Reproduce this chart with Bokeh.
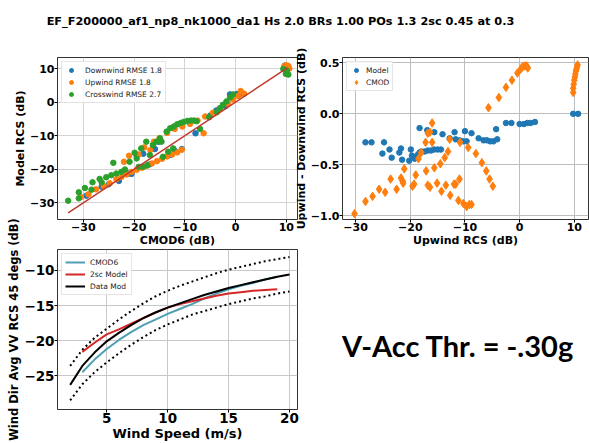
from bokeh.plotting import figure
from bokeh.layouts import column, row
from bokeh.models import Range1d, Label, FixedTicker
from bokeh.embed import file_html
from bokeh.resources import INLINE

TITLE = "EF_F200000_af1_np8_nk1000_da1 Hs 2.0 BRs 1.00 POs 1.3 2sc 0.45 at 0.3"
NOTE = "V-Acc Thr. = -.30g"

# ---------------- panel 1 : Model RCS vs CMOD6 ----------------
dw_x = [-29.4, -26.4, -25.0, -23.0, -21.0, -20.5, -19.5, -18.2, -17.0, -15.9, -15.1, -13.0,
        -12.0, -10.6, -7.9, -5.0, -3.8, -2.0, -1.1, 0.2, 1.0, 9.7, 10.3]
dw_y = [-27.9, -25.2, -24.5, -23.5, -21.3, -21.4, -16.0, -15.4, -18.6, -14.0, -11.8, -15.8,
        -14.5, -14.0, -9.3, -4.0, -2.5, -1.2, 2.3, 2.4, 2.5, 10.9, 10.2]
uw_x = [-30.5, -29.0, -27.5, -26.0, -24.8, -23.5, -22.5, -21.5, -20.5, -19.5, -18.5, -17.5,
        -16.5, -15.5, -14.5, -13.5, -12.5, -11.5, -10.6,
        -22.0, -21.0, -19.1, -18.0, -16.8, -16.1, -15.0, -13.5, -12.0, -10.5, -9.0, -7.5,
        -6.3, -6.0, -4.5, -3.0, -1.5, -0.5, 0.5, 1.0, 1.7,
        9.6, 9.9, 10.1, 10.4, 10.6]
uw_y = [-28.3, -27.5, -26.0, -25.0, -24.2, -23.0, -22.3, -21.6, -20.8, -20.2, -19.6, -19.0,
        -18.3, -17.6, -16.9, -16.2, -15.6, -15.0, -14.2,
        -17.8, -16.0, -15.6, -13.5, -14.3, -11.8, -10.8, -9.2, -8.0, -7.3, -6.5, -5.5,
        -9.3, -4.3, -3.2, -2.0, -0.5, 0.8, 1.8, 3.3, 2.5,
        10.7, 11.0, 10.5, 10.8, 10.0]
cw_x = [-33.0, -30.9, -30.9, -29.7, -28.4, -28.2, -26.8, -26.4, -25.5, -24.5, -23.5, -22.5,
        -21.8, -24.1, -20.9, -19.9, -19.5, -19.1, -18.6, -18.2, -17.6, -17.4, -16.9, -16.3,
        -15.6, -14.9, -14.6, -14.3, -13.6, -13.3, -12.9, -12.3, -12.2, -11.5, -10.8, -10.2,
        -9.5, -8.8, -8.2, -7.7, -7.0, -5.2, -3.7, -3.1, -2.5, -1.8, -1.1, -0.5,
        9.4, 9.9, 10.1, 10.4]
cw_y = [-29.4, -26.9, -28.7, -25.6, -26.1, -23.9, -22.9, -23.9, -22.4, -21.8, -21.3, -20.8,
        -20.1, -18.1, -17.8, -15.1, -16.8, -19.3, -13.8, -19.3, -11.8, -18.8, -15.8, -12.8,
        -11.8, -10.8, -11.8, -16.3, -8.8, -14.8, -7.8, -13.8, -7.3, -6.6, -6.2, -5.9,
        -5.6, -5.5, -5.5, -5.7, -8.0, -4.5, -3.0, -1.8, -0.8, 0.2, 1.4, 2.3,
        9.9, 8.4, 9.4, 8.2]
one_x = [-33.0, 10.2]
one_y = [-33.0, 10.2]
p1_ticks = [-30, -20, -10, 0, 10]
p1_labels = ["\u221230", "\u221220", "\u221210", "0", "10"]

# ---------------- panel 2 : Upwind - Downwind ----------------
m_x = [-28.2, -27.1, -25.1, -24.8, -23.8, -23.4, -22.0, -21.7, -21.5, -20.2, -19.9, -19.7,
       -19.2, -18.9, -18.6, -18.3, -18.0, -17.4, -16.8, -16.2, -15.6, -15.0, -14.4,
       -18.3, -16.9, -15.6, -14.1, -12.8, -11.7, -11.0, -10.3, -9.7, -11.9, -10.0, -8.8,
       -7.5, -6.6, -6.0, -5.4, -4.8, -4.1, -4.3, -2.5, -1.5, 0.0, 0.8, 1.4, 2.0, 2.8,
       9.8, 10.7]
m_y = [-0.28, -0.28, -0.39, -0.28, -0.35, -0.43, -0.38, -0.34, -0.45, -0.46, -0.35, -0.41,
       -0.44, -0.42, -0.40, -0.38, -0.37, -0.37, -0.36, -0.36, -0.35, -0.35, -0.35,
       -0.14, -0.16, -0.18, -0.20, -0.24, -0.25, -0.26, -0.27, -0.27, -0.18, -0.17, -0.19,
       -0.24, -0.26, -0.26, -0.27, -0.27, -0.25, -0.15, -0.09, -0.09, -0.10, -0.10, -0.09,
       -0.09, -0.08, 0.0, 0.0]
c_x = [-30.2, -28.2, -26.9, -25.7, -24.6, -23.6, -22.5, -21.7, -21.4, -21.3,
       -21.1, -19.6, -19.3, -19.0, -18.5, -18.0, -17.2, -16.8, -16.4, -16.0,
       -16.0, -17.1, -16.8, -16.4, -15.6, -15.1, -14.5, -14.3, -13.7, -13.5,
       -13.1, -12.8, -12.7, -12.0, -11.7, -11.2, -11.0, -10.9, -10.3, -9.7,
       -9.2, -8.8, -9.4, -8.0, -6.9, -6.1, -5.5, -4.9, -5.7, -3.8,
       -2.5, -1.4, -0.4, 0.2, 0.5, 0.9, 1.3, 1.5, 9.8, 9.8,
       9.9, 10.0, 10.1, 10.2, 10.3, 10.4, 10.5, 10.6]
c_y = [-0.98, -0.86, -0.81, -0.74, -0.77, -0.64, -0.74, -0.63, -0.66, -0.68,
       -0.54, -0.71, -0.69, -0.60, -0.44, -0.38, -0.28, -0.19, -0.18, -0.09,
       -0.28, -0.56, -0.70, -0.72, -0.53, -0.68, -0.49, -0.76, -0.43, -0.70,
       -0.37, -0.25, -0.80, -0.69, -0.69, -0.85, -0.64, -0.28, -0.88, -0.91,
       -0.89, -0.89, -0.33, -0.39, -0.48, -0.56, -0.64, -0.71, 0.06, 0.16,
       0.26, 0.33, 0.40, 0.44, 0.46, 0.47, 0.47, 0.45, 0.21, 0.25,
       0.29, 0.33, 0.36, 0.39, 0.42, 0.44, 0.46, 0.48]
p2_xticks = [-30, -20, -10, 0, 10]
p2_xlabels = ["\u221230", "\u221220", "\u221210", "0", "10"]
p2_yticks = [-1.0, -0.5, 0.0, 0.5]
p2_ylabels = ["\u22121.0", "\u22120.5", "0.0", "0.5"]

# ---------------- panel 3 : RCS vs wind speed ----------------
wind_all = [2, 3, 4, 5, 6, 7, 8, 9, 10, 11, 12, 13, 14, 15, 16, 17, 18, 19, 20]
data_mod = [-26.3, -23.6, -21.7, -20.1, -18.9, -17.8, -16.8, -16.0, -15.3, -14.7, -14.1,
            -13.5, -13.0, -12.5, -12.1, -11.7, -11.3, -10.9, -10.6]
upper_b = [-23.6, -21.3, -19.6, -18.3, -17.0, -15.8, -14.7, -13.7, -12.9, -12.2, -11.6,
           -11.0, -10.4, -9.9, -9.5, -9.1, -8.7, -8.4, -8.1]
lower_b = [-28.5, -26.2, -24.5, -23.1, -21.8, -20.6, -19.5, -18.5, -17.7, -17.0, -16.3,
           -15.8, -15.3, -14.8, -14.4, -14.0, -13.7, -13.3, -13.0]
wind_mod = [3, 4, 5, 6, 7, 8, 9, 10, 11, 12, 13, 14, 15, 16, 17, 18, 19]
cmod6 = [-24.5, -22.7, -21.2, -19.9, -18.8, -17.8, -17.0, -16.2, -15.5, -14.8, -14.0,
         -13.3, -12.7, -12.2, -11.8, -11.3, -10.9]
sc_model = [-21.6, -20.3, -19.1, -18.4, -17.6, -16.8, -16.0, -15.3, -14.8, -14.4, -14.0,
            -13.6, -13.3, -13.1, -12.9, -12.8, -12.7]
p3_xticks = [5, 10, 15, 20]
p3_xlabels = ["5", "10", "15", "20"]
p3_yticks = [-25, -20, -15, -10]
p3_ylabels = ["\u221225", "\u221220", "\u221215", "\u221210"]

FONT = "DejaVu Sans"
BLUE, ORANGE, GREEN = "#1f77b4", "#ff7f0e", "#2ca02c"


def style(p, tick_fs, xlab_fs, ylab_fs, grid_color="#c4c4c4"):
    for ax in p.axis:
        ax.major_label_text_font = FONT
        ax.major_label_text_font_style = "bold"
        ax.major_label_text_font_size = tick_fs
        ax.major_label_text_color = "black"
        ax.axis_label_text_font = FONT
        ax.axis_label_text_font_style = "bold"
        ax.axis_label_text_color = "black"
        ax.axis_line_color = None
        ax.major_tick_line_color = "black"
        ax.major_tick_out = 3
        ax.major_tick_in = 0
        ax.minor_tick_line_color = None
        ax.major_label_standoff = 0
        ax.axis_label_standoff = 0
    p.xaxis.axis_label_text_font_size = xlab_fs
    p.yaxis.axis_label_text_font_size = ylab_fs
    p.grid.grid_line_color = grid_color
    p.grid.grid_line_width = 1
    p.outline_line_color = "black"
    p.outline_line_alpha = 0.8
    p.outline_line_width = 1


def style_legend(lg, fs, gw, standoff):
    lg.location = "top_left"
    lg.label_text_font = FONT
    lg.label_text_font_size = fs
    lg.label_text_color = "#222222"
    lg.label_height = 10
    lg.glyph_height = 10
    lg.glyph_width = gw
    lg.spacing = 2
    lg.padding = 3
    lg.margin = 4
    lg.label_standoff = standoff
    lg.border_line_color = "#cccccc"
    lg.background_fill_alpha = 0.85


def set_ticks(axis, ticks, labels):
    axis.ticker = FixedTicker(ticks=ticks)
    axis.major_label_overrides = dict(zip(ticks, labels))


# ---- title ----
pt = figure(width=589, height=40, x_range=Range1d(0, 589), y_range=Range1d(0, 40),
            x_axis_type=None, y_axis_type=None, output_backend="svg",
            toolbar_location=None, min_border=0, title=None)
pt.outline_line_color = None
pt.add_layout(Label(x=280, y=19, text=TITLE, text_align="center", text_baseline="alphabetic",
                    text_font=FONT, text_font_style="bold", text_font_size="11.3px",
                    text_color="black"))

# ---- panel 1 ----
p1 = figure(width=300, height=210, x_range=Range1d(-35.1, 12.2), y_range=Range1d(-35.0, 13.3),
            output_backend="svg", toolbar_location=None, title=None,
            min_border_left=57, min_border_right=3, min_border_top=17, min_border_bottom=31)
p1.scatter(dw_x, dw_y, size=5.5, color=BLUE, legend_label="Downwind RMSE 1.8")
p1.scatter(uw_x, uw_y, size=5.5, color=ORANGE, legend_label="Upwind RMSE 1.8")
p1.scatter(cw_x, cw_y, size=5.5, color=GREEN, legend_label="Crosswind RMSE 2.7")
p1.line(one_x, one_y, color="#c0392b", line_width=1.5)
p1.xaxis.axis_label = "CMOD6 (dB)"
p1.yaxis.axis_label = "Model RCS (dB)"
style(p1, "11px", "11px", "11px", "#d4d4d4")
set_ticks(p1.xaxis, p1_ticks, p1_labels)
set_ticks(p1.yaxis, p1_ticks, p1_labels)
style_legend(p1.legend[0], "7.5px", 12, 8)

# ---- panel 2 ----
p2 = figure(width=298, height=210, x_range=Range1d(-32.4, 12.6), y_range=Range1d(-1.037, 0.553),
            output_backend="svg", toolbar_location=None, title=None,
            min_border_left=47, min_border_right=1, min_border_top=17, min_border_bottom=31)
p2.border_fill_color = None
p2.scatter(m_x, m_y, size=5.5, color=BLUE, legend_label="Model")
p2.scatter(c_x, c_y, marker="diamond", size=8.5, color=ORANGE, legend_label="CMOD")
p2.xaxis.axis_label = "Upwind RCS (dB)"
p2.yaxis.axis_label = "Upwind - Downwind RCS (dB)"
style(p2, "11px", "11px", "11px", "#bdbdbd")
set_ticks(p2.xaxis, p2_xticks, p2_xlabels)
set_ticks(p2.yaxis, p2_yticks, p2_ylabels)
style_legend(p2.legend[0], "7.5px", 12, 4)
p2.margin = (0, 0, 0, -9)

# ---- panel 3 ----
p3 = figure(width=300, height=231, x_range=Range1d(0.96, 20.66), y_range=Range1d(-29.8, -7.03),
            output_backend="svg", toolbar_location=None, title=None,
            min_border_left=57, min_border_right=3, min_border_top=37, min_border_bottom=33)
p3.border_fill_color = None
p3.line(wind_mod, cmod6, color="#4f9fb3", line_width=2, legend_label="CMOD6")
p3.line(wind_mod, sc_model, color="#d62728", line_width=2, legend_label="2sc Model")
p3.line(wind_all, data_mod, color="black", line_width=2, legend_label="Data Mod")
p3.line(wind_all, upper_b, color="black", line_width=2, line_dash="2 3")
p3.line(wind_all, lower_b, color="black", line_width=2, line_dash="2 3")
p3.xaxis.axis_label = "Wind Speed (m/s)"
p3.yaxis.axis_label = "Wind Dir Avg VV RCS 45 degs (dB)"
style(p3, "13.5px", "13px", "11.5px", "#c8c8c8")
set_ticks(p3.xaxis, p3_xticks, p3_xlabels)
set_ticks(p3.yaxis, p3_yticks, p3_ylabels)
style_legend(p3.legend[0], "7.5px", 20, 5)

# ---- panel 4 : note ----
p4 = figure(width=289, height=231, x_range=Range1d(0, 289), y_range=Range1d(0, 231),
            x_axis_type=None, y_axis_type=None, output_backend="svg",
            toolbar_location=None, min_border=0, title=None)
p4.outline_line_color = None
p4.border_fill_color = None
p4.background_fill_color = None
p4.add_layout(Label(x=157.5, y=93, text=NOTE, text_align="center", text_baseline="alphabetic",
                    text_font="Lato", text_font_style="bold", text_font_size="29px",
                    text_color="black"))

layout = column(pt, row(p1, p2), row(p3, p4, margin=(-38, 0, 0, 0)))
open("out.html", "w").write(file_html(layout, INLINE))
